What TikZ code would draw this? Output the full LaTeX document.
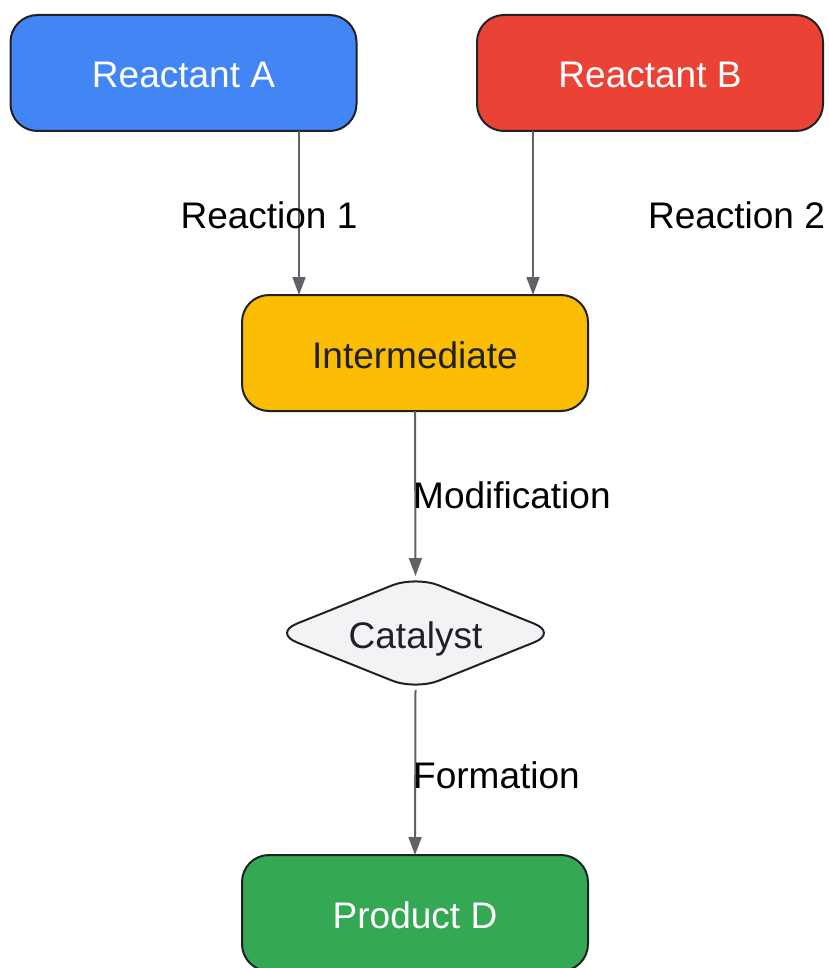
\documentclass[tikz,border=0pt]{standalone}
\usepackage{fontspec}
\setmainfont{Liberation Sans}
\usetikzlibrary{shapes.geometric,arrows.meta}
\definecolor{cblue}{HTML}{4285F4}
\definecolor{cred}{HTML}{EA4335}
\definecolor{cyellow}{HTML}{FBBC04}
\definecolor{cgreen}{HTML}{34A853}
\definecolor{cgrayfill}{HTML}{F1F3F4}
\definecolor{cborder}{HTML}{202124}
\definecolor{carrow}{HTML}{5F6368}
\begin{document}
\begin{tikzpicture}[x=1pt,y=-1pt,
  box/.style={draw=cborder,line width=2pt,rounded corners=27pt,minimum width=346pt,minimum height=116pt,inner sep=0pt,outer sep=0pt,text height=30pt,text depth=0pt,font=\fontsize{37}{44}\selectfont},
  catbox/.style={draw=cborder,fill=cgrayfill,line width=2pt,shape=diamond,aspect=2.5,rounded corners=25pt,minimum width=284pt,minimum height=114pt,inner sep=0pt,outer sep=0pt,text=cborder,text height=30pt,text depth=0pt,font=\fontsize{37}{44}\selectfont},
  arr/.style={draw=carrow,line width=2pt,-{Triangle[length=18pt,width=13pt]}},
  lbl/.style={inner sep=0pt,font=\fontsize{37}{44}\selectfont,text=black}]
\useasboundingbox (0,0) rectangle (828,968);
\node[box,fill=cblue,text=white] (A) at (183.5,73) {Reactant A};
\node[box,fill=cred,text=white] (B) at (650,73) {Reactant B};
\node[box,fill=cyellow,text=cborder] (I) at (415,353) {Intermediate};
\node[catbox] (C) at (415.5,633) {Catalyst};
\node[box,fill=cgreen,text=white] (P) at (415,913) {Product D};
\draw[arr] ([xshift=115.5]A.south) -- ([xshift=-116]I.north);
\draw[arr] ([xshift=-117]B.south) -- ([xshift=118]I.north);
\draw[arr] (I.south) -- (C.north);
\draw[arr] (C.south) -- (P.north);
\node[lbl] (l1) at (269,215) {Reaction 1};
\node[lbl] (l2) at (736.5,215) {Reaction 2};
\node[lbl,anchor=west] (l3) at (413,495) {Modification};
\node[lbl,anchor=west] (l4) at (413,775) {Formation};
\end{tikzpicture}
\end{document}
